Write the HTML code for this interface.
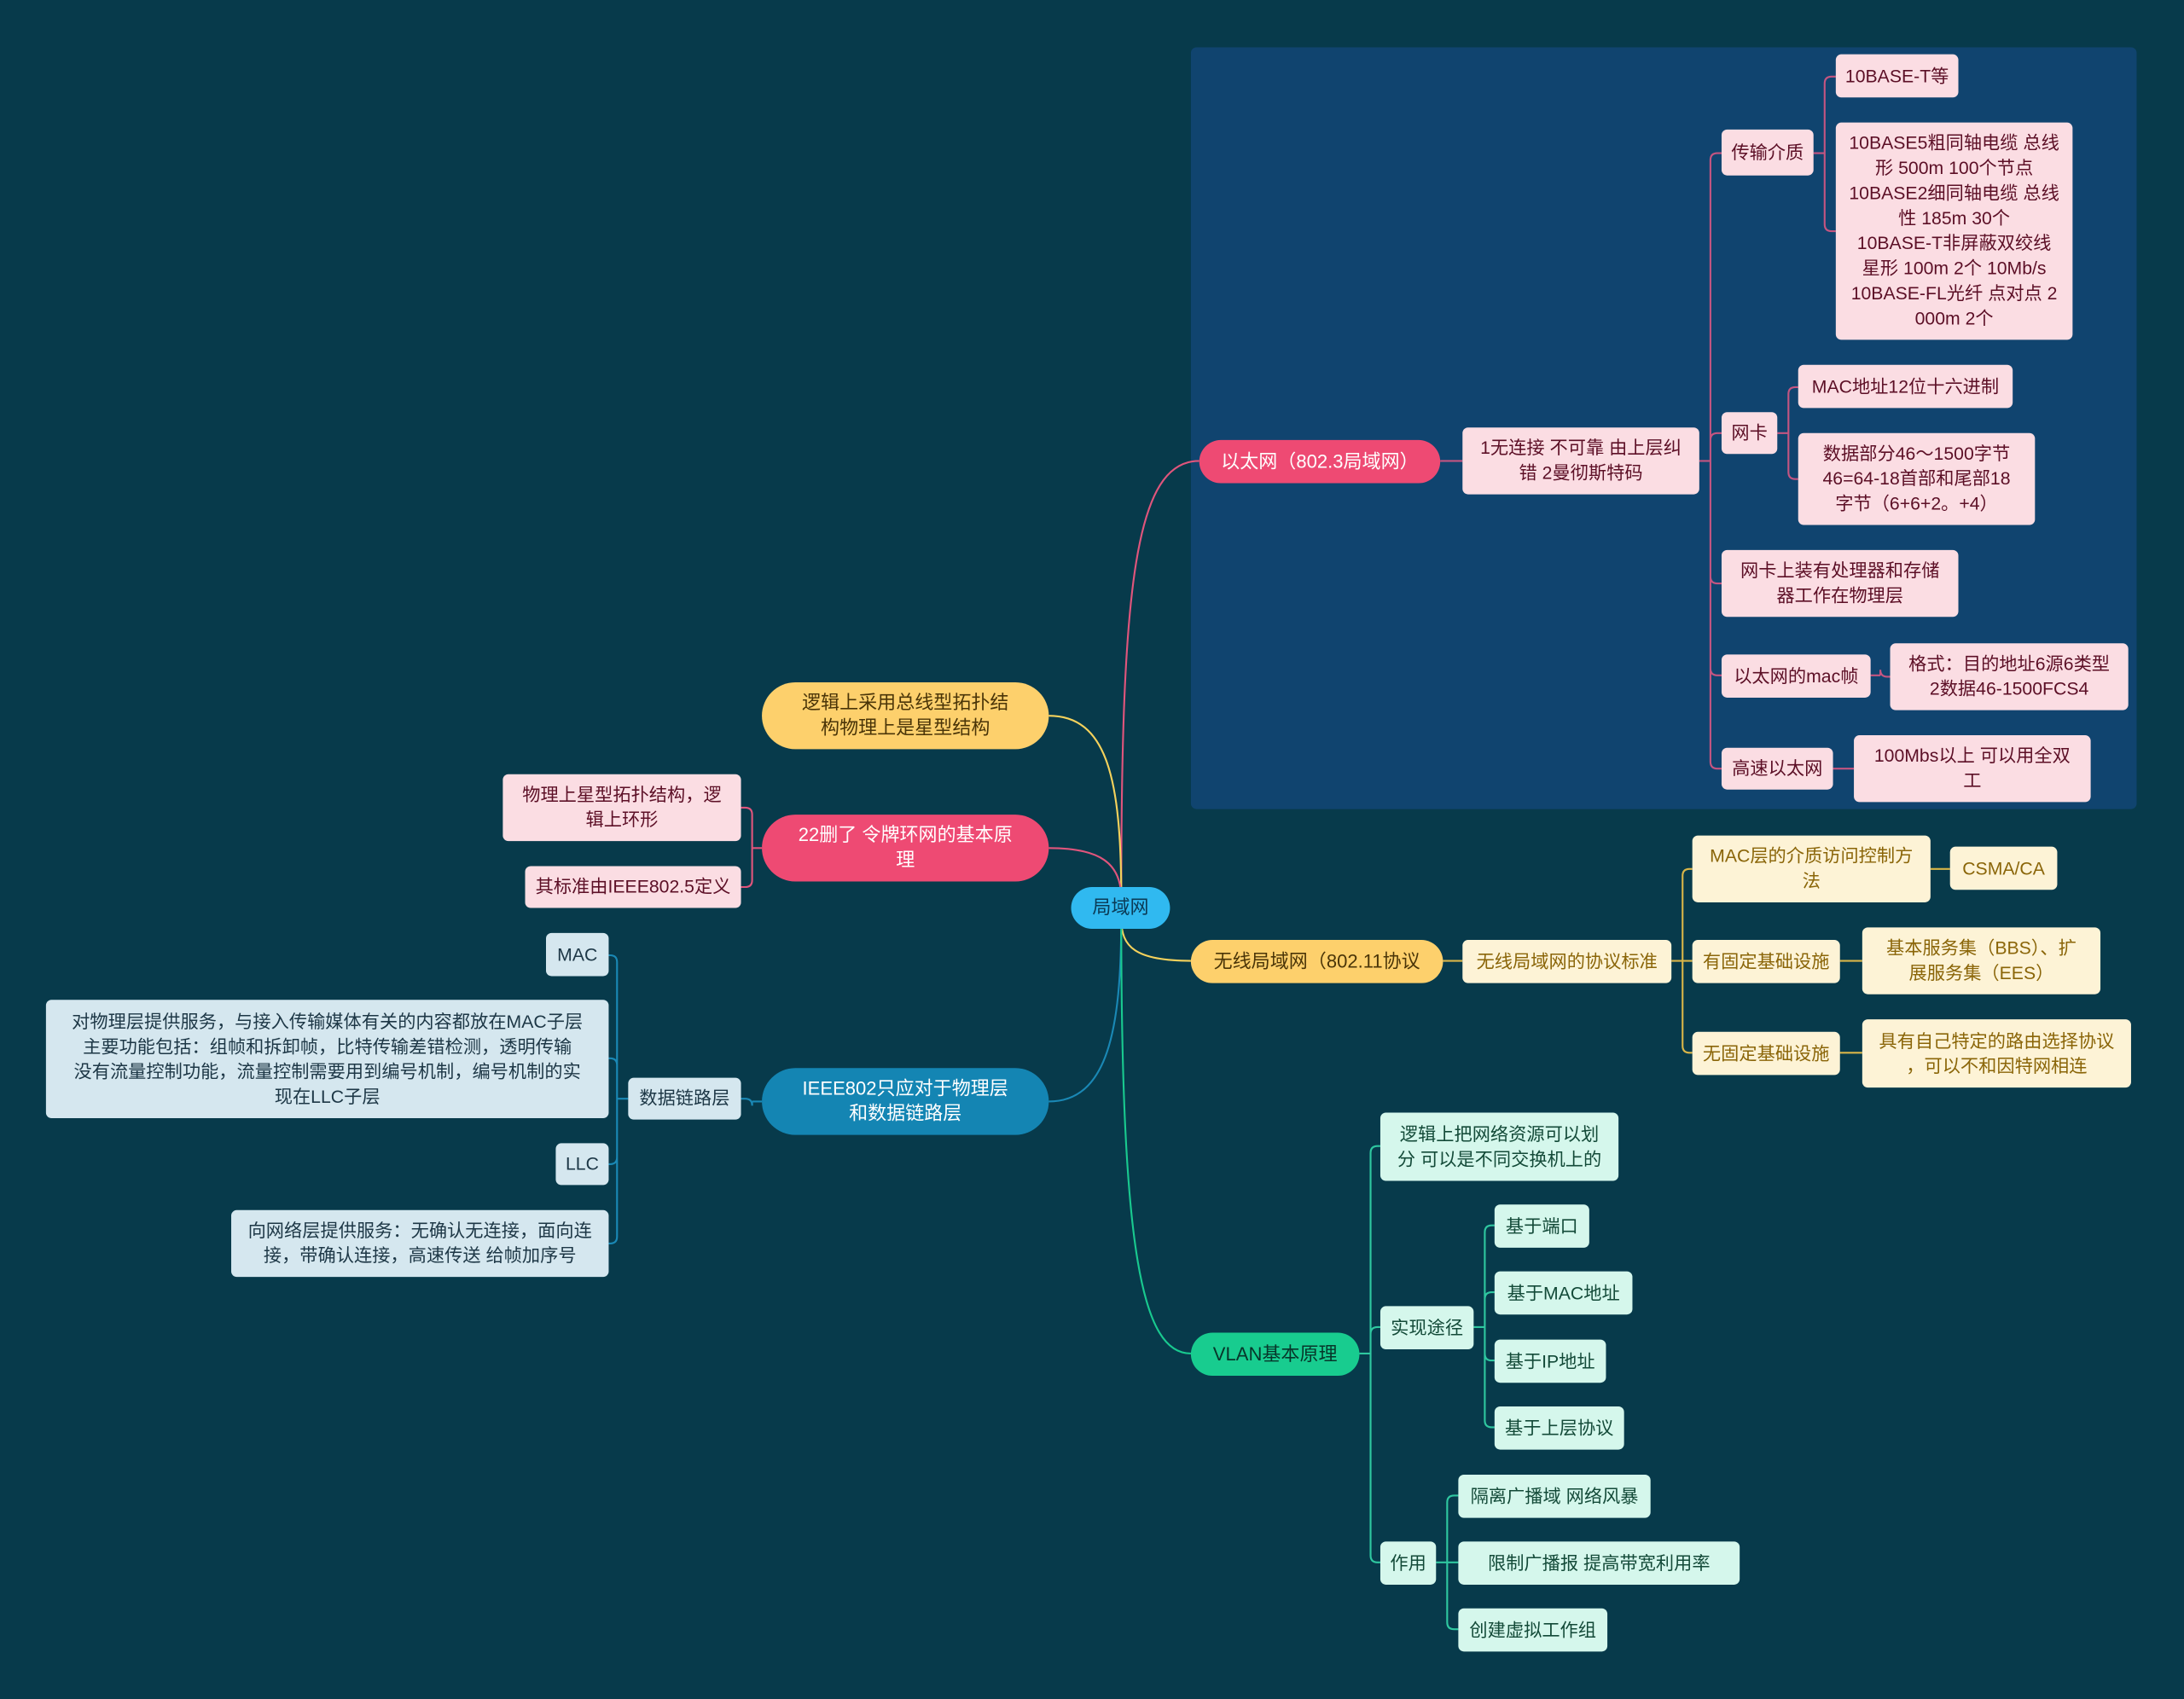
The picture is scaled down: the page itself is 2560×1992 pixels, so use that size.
<!DOCTYPE html>
<html><head><meta charset="utf-8">
<style>
html,body{margin:0;padding:0;background:#073a4b;}
#wrap{width:2560px;height:1992px;overflow:hidden;position:relative;background:#073a4b;}
#s{position:absolute;left:0;top:0;width:1568px;height:1220px;transform:scale(1.632653);transform-origin:0 0;}
.n{position:absolute;display:flex;align-items:center;justify-content:center;text-align:center;box-sizing:border-box;font-family:"Liberation Sans","Noto Sans CJK SC",sans-serif;font-size:13px;line-height:18px;border-radius:4px;padding:0 2px;white-space:nowrap;}
.pk{background:#fbdde3;color:#5c0f26;}
.yl{background:#fdf3d6;color:#8a6508;}
.bl{background:#d5e7ef;color:#1d3746;}
.gr{background:#d5f7ec;color:#134a38;}
.r1{border-radius:17px;font-size:13.5px;}
#panel{position:absolute;left:855px;top:34px;width:679px;height:547px;background:#10446f;border-radius:4px;}
svg{position:absolute;left:0;top:0;}
</style></head><body>
<div id="wrap"><div id="s">
<div id="panel"></div>
<svg id="g" width="1568" height="1220" fill="none" stroke-width="1.3"></svg>

<div class="n r1" style="left:769px;top:637px;width:71px;height:30px;background:#30b9f0;color:#0b3a55;">局域网</div>

<div class="n r1" style="left:861px;top:316px;width:173px;height:31px;background:#ee4a73;color:#fff;">以太网（802.3局域网）</div>
<div class="n pk" style="left:1050px;top:307px;width:170px;height:48px;">1无连接 不可靠 由上层纠<br>错 2曼彻斯特码</div>
<div class="n pk" style="left:1236px;top:93px;width:66px;height:33px;">传输介质</div>
<div class="n pk" style="left:1318px;top:39px;width:88px;height:31px;">10BASE-T等</div>
<div class="n pk" style="left:1318px;top:88px;width:170px;height:156px;">10BASE5粗同轴电缆 总线<br>形 500m 100个节点<br>10BASE2细同轴电缆 总线<br>性 185m 30个<br>10BASE-T非屏蔽双绞线<br>星形 100m 2个 10Mb/s<br>10BASE-FL光纤 点对点 2<br>000m 2个</div>
<div class="n pk" style="left:1236px;top:296px;width:40px;height:30px;">网卡</div>
<div class="n pk" style="left:1291px;top:262px;width:154px;height:31px;">MAC地址12位十六进制</div>
<div class="n pk" style="left:1291px;top:311px;width:170px;height:66px;">数据部分46～1500字节<br>46=64-18首部和尾部18<br>字节（6+6+2。+4）</div>
<div class="n pk" style="left:1236px;top:395px;width:170px;height:48px;">网卡上装有处理器和存储<br>器工作在物理层</div>
<div class="n pk" style="left:1236px;top:470px;width:107px;height:31px;">以太网的mac帧</div>
<div class="n pk" style="left:1357px;top:462px;width:171px;height:48px;">格式：目的地址6源6类型<br>2数据46-1500FCS4</div>
<div class="n pk" style="left:1236px;top:537px;width:80px;height:30px;">高速以太网</div>
<div class="n pk" style="left:1331px;top:528px;width:170px;height:48px;">100Mbs以上 可以用全双<br>工</div>

<div class="n r1" style="left:547px;top:490px;width:206px;height:48px;background:#fdd06c;color:#4a3508;border-radius:24px;">逻辑上采用总线型拓扑结<br>构物理上是星型结构</div>
<div class="n r1" style="left:547px;top:585px;width:206px;height:48px;background:#ee4a73;color:#fff;border-radius:24px;">22删了 令牌环网的基本原<br>理</div>
<div class="n pk" style="left:361px;top:556px;width:171px;height:48px;">物理上星型拓扑结构，逻<br>辑上环形</div>
<div class="n pk" style="left:377px;top:622px;width:155px;height:30px;">其标准由IEEE802.5定义</div>

<div class="n r1" style="left:547px;top:767px;width:206px;height:48px;background:#1485b3;color:#fff;border-radius:24px;">IEEE802只应对于物理层<br>和数据链路层</div>
<div class="n bl" style="left:451px;top:774px;width:81px;height:30px;">数据链路层</div>
<div class="n bl" style="left:392px;top:670px;width:45px;height:31px;">MAC</div>
<div class="n bl" style="left:33px;top:718px;width:404px;height:85px;">对物理层提供服务，与接入传输媒体有关的内容都放在MAC子层<br>主要功能包括：组帧和拆卸帧，比特传输差错检测，透明传输<br>没有流量控制功能，流量控制需要用到编号机制，编号机制的实<br>现在LLC子层</div>
<div class="n bl" style="left:399px;top:821px;width:38px;height:30px;">LLC</div>
<div class="n bl" style="left:166px;top:869px;width:271px;height:48px;">向网络层提供服务：无确认无连接，面向连<br>接，带确认连接，高速传送 给帧加序号</div>

<div class="n r1" style="left:855px;top:675px;width:181px;height:31px;background:#fdd06c;color:#4a3508;">无线局域网（802.11协议</div>
<div class="n yl" style="left:1050px;top:675px;width:150px;height:31px;">无线局域网的协议标准</div>
<div class="n yl" style="left:1215px;top:600px;width:171px;height:48px;">MAC层的介质访问控制方<br>法</div>
<div class="n yl" style="left:1400px;top:608px;width:77px;height:31px;">CSMA/CA</div>
<div class="n yl" style="left:1215px;top:675px;width:106px;height:31px;">有固定基础设施</div>
<div class="n yl" style="left:1337px;top:666px;width:171px;height:48px;">基本服务集（BBS）、扩<br>展服务集（EES）</div>
<div class="n yl" style="left:1215px;top:741px;width:106px;height:31px;">无固定基础设施</div>
<div class="n yl" style="left:1337px;top:732px;width:193px;height:49px;">具有自己特定的路由选择协议<br>，可以不和因特网相连</div>

<div class="n r1" style="left:855px;top:957px;width:121px;height:31px;background:#18cc8f;color:#07362a;">VLAN基本原理</div>
<div class="n gr" style="left:991px;top:799px;width:171px;height:49px;">逻辑上把网络资源可以划<br>分 可以是不同交换机上的</div>
<div class="n gr" style="left:991px;top:938px;width:67px;height:31px;">实现途径</div>
<div class="n gr" style="left:1073px;top:865px;width:68px;height:31px;">基于端口</div>
<div class="n gr" style="left:1073px;top:913px;width:99px;height:31px;">基于MAC地址</div>
<div class="n gr" style="left:1073px;top:962px;width:80px;height:31px;">基于IP地址</div>
<div class="n gr" style="left:1073px;top:1010px;width:93px;height:31px;">基于上层协议</div>
<div class="n gr" style="left:991px;top:1107px;width:40px;height:31px;">作用</div>
<div class="n gr" style="left:1047px;top:1059px;width:138px;height:31px;">隔离广播域 网络风暴</div>
<div class="n gr" style="left:1047px;top:1107px;width:202px;height:31px;">限制广播报 提高带宽利用率</div>
<div class="n gr" style="left:1047px;top:1155px;width:107px;height:31px;">创建虚拟工作组</div>
</div></div>
<script>
var g=document.getElementById('g');
function p(s,c){var e=document.createElementNS('http://www.w3.org/2000/svg','path');e.setAttribute('d',s);e.setAttribute('stroke',c);g.appendChild(e);}
p('M805,645 C805,420 815,331 861,331','#e0557c');
p('M805,645 C805,560 795,514 753,514','#f5d25c');
p('M805,645 C805,620 790,609 753,609','#e0557c');
p('M805,660 C805,740 795,791 753,791','#1a88b5');
p('M805,660 C805,680 815,690 855,690','#f5d25c');
p('M805,660 C805,900 820,972 855,972','#19c98f');
function br(px,py,bx,cx,ys,c){var s='M'+px+','+py+' H'+bx;var r=5;
 ys.forEach(function(y){if(Math.abs(y-py)<1){s+=' M'+bx+','+y+' H'+cx;}else{var dir=y>py?1:-1;s+=' M'+bx+','+py+' V'+(y-dir*r)+' Q'+bx+','+y+' '+(bx+(cx>bx?r:-r))+','+y+' H'+cx;}});p(s,c);}
var pc='#c45581';
br(1034,331,1042,1050,[331],pc);
br(1220,331,1228,1236,[110,311,419,485,552],pc);
br(1302,110,1310,1318,[55,166],pc);
br(1276,311,1284,1291,[278,344],pc);
br(1343,485,1350,1357,[486],pc);
br(1316,552,1324,1331,[552],pc);
br(547,609,540,532,[580,637],'#e0557c');
br(547,791,540,532,[789],'#1a88b5');
br(451,789,443,437,[686,760,836,893],'#1a88b5');
var yc='#d9b548';
br(1036,690,1043,1050,[690],yc);
br(1200,690,1208,1215,[624,690,756],yc);
br(1386,624,1393,1400,[624],yc);
br(1321,690,1329,1337,[690],yc);
br(1321,756,1329,1337,[756],yc);
var gc='#2fc7a0';
br(976,972,984,991,[823,953,1122],gc);
br(1058,953,1066,1073,[880,928,977,1025],gc);
br(1031,1122,1039,1047,[1074,1122,1170],gc);
</script>
</body></html>
